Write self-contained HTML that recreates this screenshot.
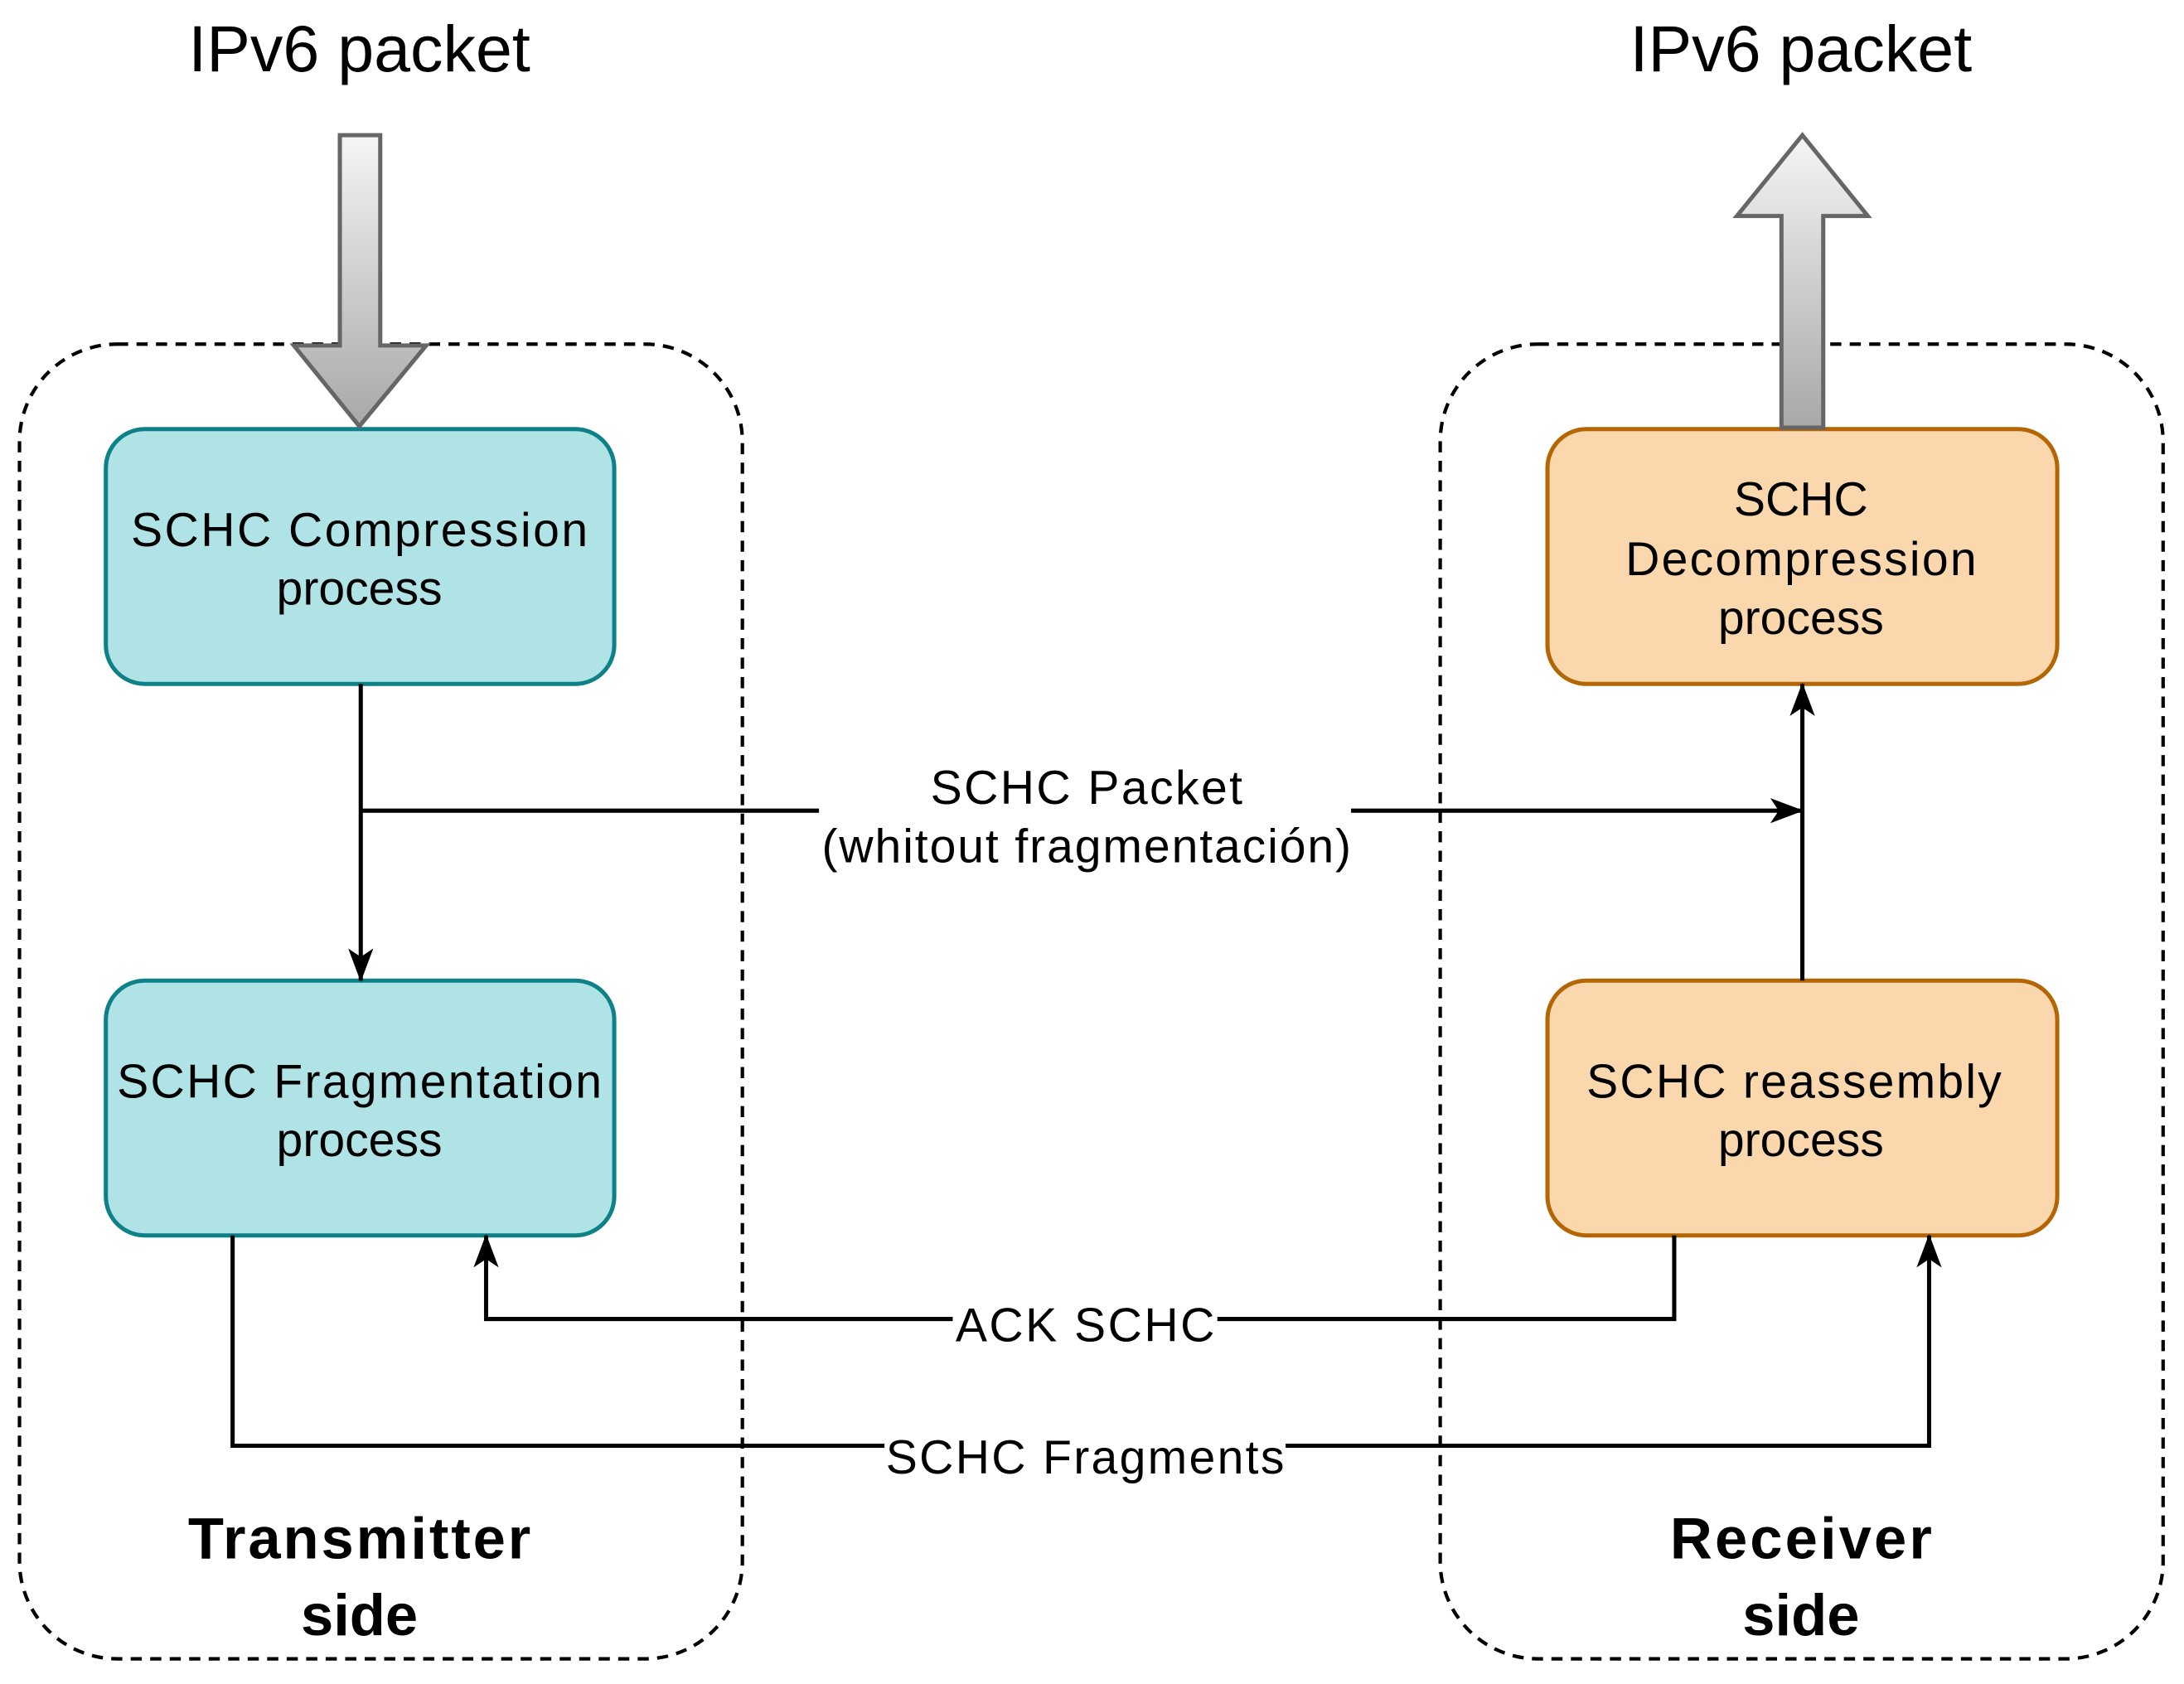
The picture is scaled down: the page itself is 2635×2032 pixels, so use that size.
<!DOCTYPE html>
<html><head><meta charset="utf-8"><style>html,body{margin:0;padding:0;background:#fff}svg{display:block}text{font-family:"Liberation Sans",Arial,sans-serif}</style></head>
<body>
<svg width="2635" height="2032" viewBox="0 0 1568 1209" xmlns="http://www.w3.org/2000/svg">
<defs>
<linearGradient id="g" x1="0" y1="0" x2="0" y2="1"><stop offset="0" stop-color="#f5f5f5"/><stop offset="1" stop-color="#a8a8a8"/></linearGradient>
<marker id="a" viewBox="0 0 24 20" refX="23" refY="10" markerWidth="24" markerHeight="20" orient="auto" markerUnits="userSpaceOnUse"><path d="M0,1 L24,10 L0,19 L6,10 z" fill="#000"/></marker>
</defs>
<rect width="1568" height="1209" fill="#fff"/>
<text x="258" y="51" font-size="47" text-anchor="middle">IPv6 packet</text>
<text x="1293" y="51" font-size="47" text-anchor="middle">IPv6 packet</text>
<rect x="14" y="247" width="519" height="944" rx="70" fill="none" stroke="#000" stroke-width="2.5" stroke-dasharray="8,6"/>
<rect x="1034" y="247" width="519" height="944" rx="70" fill="none" stroke="#000" stroke-width="2.5" stroke-dasharray="8,6"/>
<rect x="76" y="308" width="365" height="183" rx="28" fill="#b0e3e6" stroke="#0e8088" stroke-width="3"/>
<rect x="76" y="704" width="365" height="183" rx="28" fill="#b0e3e6" stroke="#0e8088" stroke-width="3"/>
<rect x="1111" y="308" width="366" height="183" rx="28" fill="#fad7ac" stroke="#b46504" stroke-width="3"/>
<rect x="1111" y="704" width="366" height="183" rx="28" fill="#fad7ac" stroke="#b46504" stroke-width="3"/>
<path d="M244,97 L273,97 L273,248 L306,248 L258,306 L211,248 L244,248 Z" fill="url(#g)" stroke="#666" stroke-width="3"/>
<path d="M1279,307 L1309,307 L1309,155 L1341,155 L1294,97 L1247,155 L1279,155 Z" fill="url(#g)" stroke="#666" stroke-width="3"/>
<g font-size="34" text-anchor="middle">
<text x="258" y="392" textLength="328">SCHC Compression</text><text x="258" y="434">process</text>
<text x="258" y="788" textLength="348">SCHC Fragmentation</text><text x="258" y="830">process</text>
<text x="1293" y="370">SCHC</text><text x="1293" y="413" textLength="252">Decompression</text><text x="1293" y="455">process</text>
<text x="1288" y="788" textLength="298">SCHC reassembly</text><text x="1293" y="830">process</text>
</g>
<g fill="none" stroke="#000" stroke-width="3">
<path d="M259,491 L259,704" marker-end="url(#a)"/>
<path d="M259,582 L588,582"/>
<path d="M970,582 L1294,582" marker-end="url(#a)"/>
<path d="M1294,704 L1294,491" marker-end="url(#a)"/>
<path d="M1202,887 L1202,947 L349,947 L349,887" marker-end="url(#a)"/>
<path d="M167,887 L167,1038 L1385,1038 L1385,887" marker-end="url(#a)"/>
</g>
<g font-size="34" text-anchor="middle">
<text x="780" y="577" textLength="224">SCHC Packet</text>
<text x="780" y="619" textLength="380">(whitout fragmentación)</text>
<rect x="684" y="930" width="190" height="36" fill="#fff"/>
<text x="779" y="963" textLength="186">ACK SCHC</text>
<rect x="635" y="1022" width="288" height="40" fill="#fff"/>
<text x="779" y="1058" textLength="286">SCHC Fragments</text>
</g>
<g font-size="42" font-weight="bold" text-anchor="middle">
<text x="258" y="1119" textLength="246">Transmitter</text><text x="258" y="1174">side</text>
<text x="1293" y="1119" textLength="188">Receiver</text><text x="1293" y="1174">side</text>
</g>
</svg>
</body></html>
